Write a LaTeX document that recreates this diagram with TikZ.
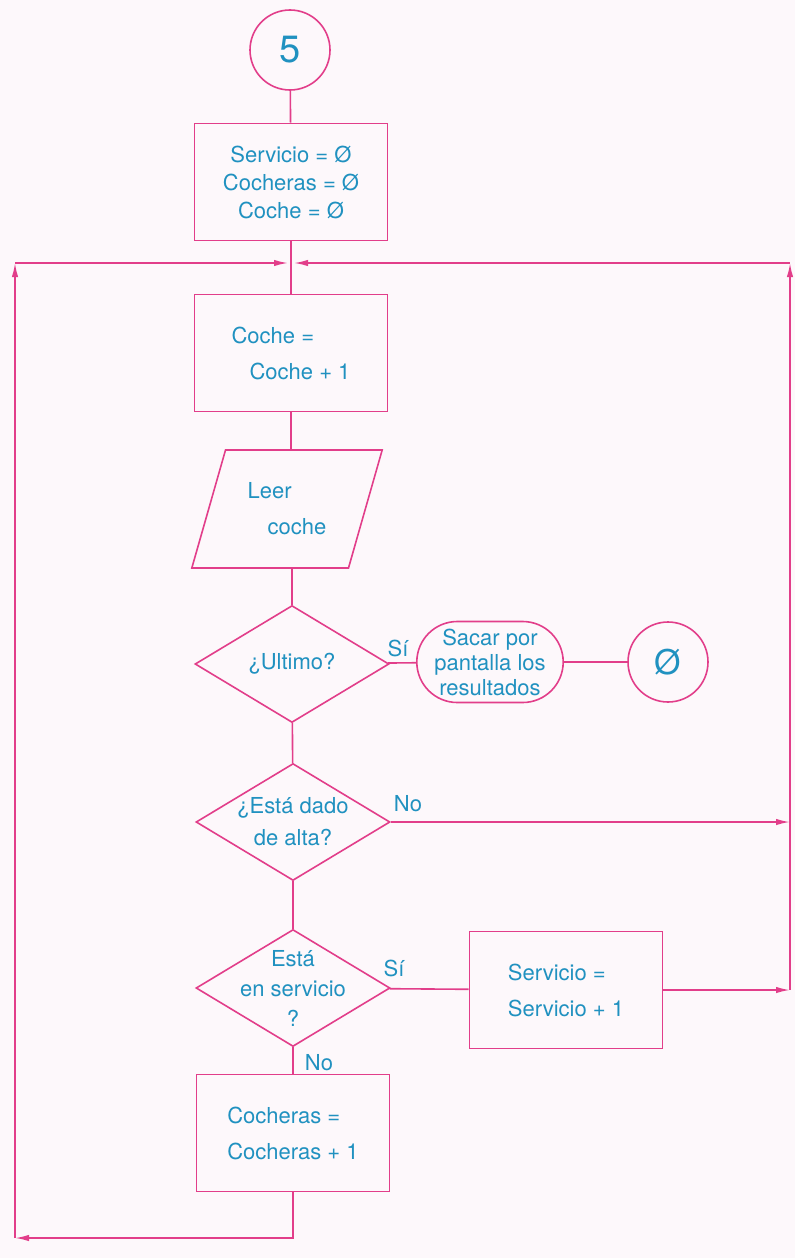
\documentclass[tikz,border=0pt]{standalone}
\usepackage{fontspec}
\setmainfont{TeX Gyre Heros}
\usetikzlibrary{shapes.geometric,shapes.misc,arrows.meta}
\definecolor{flujo}{RGB}{226,62,138}
\definecolor{texto}{RGB}{32,145,192}
\definecolor{papel}{RGB}{253,248,251}

\begin{document}
\begin{tikzpicture}[
    x=0.5pt, y=-0.5pt,
    every node/.style={text=texto, font=\fontsize{11}{14}\selectfont},
    linea/.style={draw=flujo, line width=0.8pt},
    proc/.style={rectangle, linea, minimum width=96.5pt, minimum height=58.5pt, align=center},
    entrada/.style={trapezium, linea, trapezium left angle=69, trapezium right angle=111, trapezium stretches=true, minimum width=95.5pt, minimum height=59pt, align=left},
    decision/.style={diamond, linea, minimum width=97pt, minimum height=58.5pt, inner sep=0pt},
    pregunta/.style={align=center, inner sep=0pt},
    salida/.style={rounded rectangle, linea, minimum width=68pt, minimum height=40.5pt, inner sep=0pt, align=center, font=\fontsize{11}{12.5}\selectfont},
    conector/.style={circle, linea, minimum size=40pt, inner sep=0pt},
    arrow/.style={linea, -{Latex[length=7pt,width=3.2pt]}}
]
    \fill[papel] (0,0) rectangle (795,1258);
    \useasboundingbox (0,0) rectangle (795,1258);

    % Start
    \node[conector, font=\fontsize{19}{19}\selectfont] (ini) at (290,50) {5};
    \node[proc] (cero) at (291,182) {Servicio = Ø\\Cocheras = Ø\\Coche = Ø};

    % Loop
    \node[proc, align=left] (coche) at (291,353) {Coche =\\[4pt]\hspace*{9pt}Coche + 1};
    \node[entrada] (leer) at (287,509) {Leer\\[4pt]\hspace*{10pt}coche};
    \node[decision] (ultimo) at (292,664) {};
    \node[pregunta] (ultimoT) at (ultimo) {¿Ultimo?};
    \node[salida] (result) at (490,662) {Sacar por\\pantalla los\\resultados};
    \node[conector, font=\fontsize{17}{17}\selectfont] (fin) at (668,662) {Ø};
    \node[decision] (alta) at (293,822) {};
    \node[pregunta] (altaT) at (alta) {¿Está dado\\[2pt]de alta?};
    \node[decision] (enserv) at (293,988) {};
    \node[pregunta] (enservT) at (enserv) {Está\\[1pt]en servicio\\[1pt]?};
    \node[proc, align=left] (serv) at (566,990) {Servicio =\\[4pt]Servicio + 1};
    \node[proc, align=left] (cocheras) at (293,1133) {Cocheras =\\[4pt]Cocheras + 1};

    % Labels
    \node (si1) at (398,648) {Sí};
    \node (no1) at (408,804) {No};
    \node (si2) at (394,968) {Sí};
    \node (no2) at (319,1063) {No};

    % Corners
    \coordinate (jn) at (291,263);
    \coordinate (tr) at (790,263);
    \coordinate (tl) at (15,263);
    \coordinate (bl) at (15,1238);
    \coordinate (bm) at (293,1238);

    % Arrows
    \draw[linea] (ini) -- (cero);
    \draw[linea] (cero) -- (coche);
    \draw[linea] (coche) -- (leer.north -| coche);
    \draw[linea] (leer.south -| ultimo) -- (ultimo);
    \draw[linea] (ultimo) -- (result);
    \draw[linea] (result) -- (fin);
    \draw[linea] (ultimo) -- (alta);
    \draw[arrow] (alta.east) -- (alta.east -| tr);
    \draw[linea] (alta) -- (enserv);
    \draw[linea] (enserv) -- (serv);
    \draw[arrow] (serv.east) -- (serv.east -| tr);
    \draw[arrow] (serv.east -| tr) -- (tr);
    \draw[arrow] (tr) -- ([xshift=1.5pt]jn);
    \draw[linea] (enserv) -- (cocheras);
    \draw[arrow] (cocheras.south) -- (bm) -- (bl);
    \draw[arrow] (bl) -- (tl);
    \draw[arrow] (tl) -- ([xshift=-1.5pt]jn);

\end{tikzpicture}
\end{document}
